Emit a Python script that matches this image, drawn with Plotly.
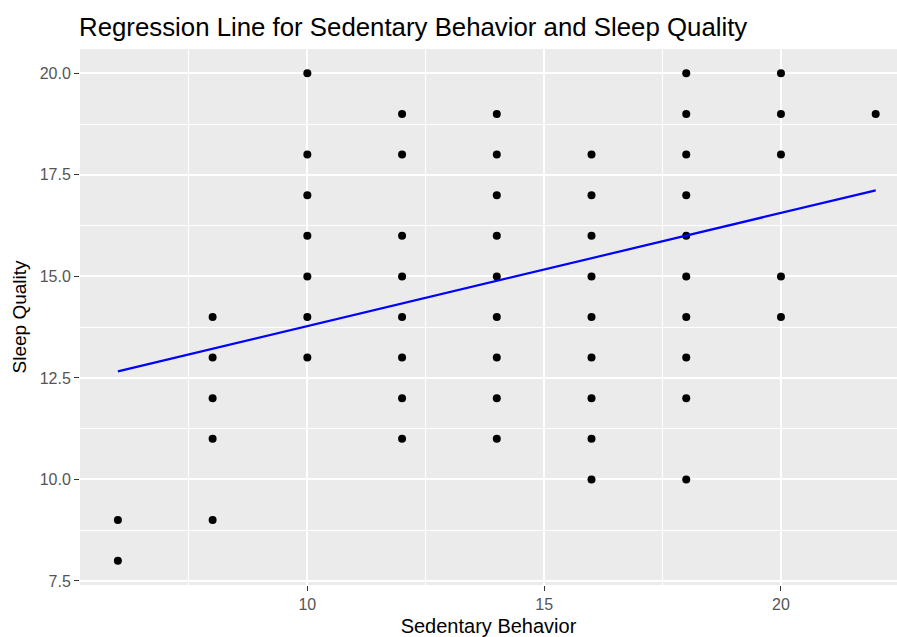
import plotly.graph_objects as go

sedentary = [6, 6,
             8, 8, 8, 8, 8,
             10, 10, 10, 10, 10, 10, 10,
             12, 12, 12, 12, 12, 12, 12, 12,
             14, 14, 14, 14, 14, 14, 14, 14, 14,
             16, 16, 16, 16, 16, 16, 16, 16, 16,
             18, 18, 18, 18, 18, 18, 18, 18, 18, 18,
             20, 20, 20, 20, 20,
             22]
sleep = [9, 8,
         14, 13, 12, 11, 9,
         20, 18, 17, 16, 15, 14, 13,
         19, 18, 16, 15, 14, 13, 12, 11,
         19, 18, 17, 16, 15, 14, 13, 12, 11,
         18, 17, 16, 15, 14, 13, 12, 11, 10,
         20, 19, 18, 17, 16, 15, 14, 13, 12, 10,
         20, 19, 18, 15, 14,
         19]

line_x = [6, 22]
line_y = [12.66, 17.12]

x_ticks = [10, 15, 20]
y_ticks = [7.5, 10.0, 12.5, 15.0, 17.5, 20.0]
y_tick_labels = ["7.5", "10.0", "12.5", "15.0", "17.5", "20.0"]

fig = go.Figure()
fig.add_trace(go.Scatter(x=sedentary, y=sleep, mode="markers",
                         marker=dict(color="black", size=8), showlegend=False))
fig.add_trace(go.Scatter(x=line_x, y=line_y, mode="lines",
                         line=dict(color="blue", width=2.2), showlegend=False))

fig.update_layout(
    width=897, height=637,
    margin=dict(l=80, r=0, t=49, b=52, autoexpand=False),
    paper_bgcolor="white", plot_bgcolor="#EBEBEB",
    font=dict(family="Liberation Sans, Arial, sans-serif"),
    title=dict(text="Regression Line for Sedentary Behavior and Sleep Quality",
               x=79/897, xanchor="left", y=1-27/637, yanchor="middle",
               font=dict(size=25.8, color="black"), automargin=False),
)
fig.update_xaxes(
    range=[5.2, 22.45], tickvals=x_ticks, ticktext=[str(v) for v in x_ticks],
    showgrid=True, gridcolor="white", gridwidth=1.6, zeroline=False,
    minor=dict(tickvals=[7.5, 12.5, 17.5], showgrid=True, gridcolor="white", gridwidth=0.7),
    ticks="outside", ticklen=5, tickcolor="#333333", tickwidth=1,
    tickfont=dict(size=16, color="#555555"),
    title=dict(text="Sedentary Behavior", font=dict(size=20, color="black"), standoff=7),
    showline=False, automargin=False,
)
fig.update_yaxes(
    range=[7.4, 20.6], tickvals=y_ticks, ticktext=y_tick_labels,
    showgrid=True, gridcolor="white", gridwidth=1.6, zeroline=False,
    minor=dict(tickvals=[8.75, 11.25, 13.75, 16.25, 18.75], showgrid=True, gridcolor="white", gridwidth=0.7),
    ticks="outside", ticklen=5, tickcolor="#333333", tickwidth=1,
    tickfont=dict(size=16, color="#555555"),
    title=dict(text="Sleep Quality", font=dict(size=19, color="black"), standoff=8),
    showline=False, automargin=False,
)

fig.write_html("out.html", config={"displayModeBar": False},
               post_script="document.body.style.margin='0';document.body.style.overflow='hidden';")
